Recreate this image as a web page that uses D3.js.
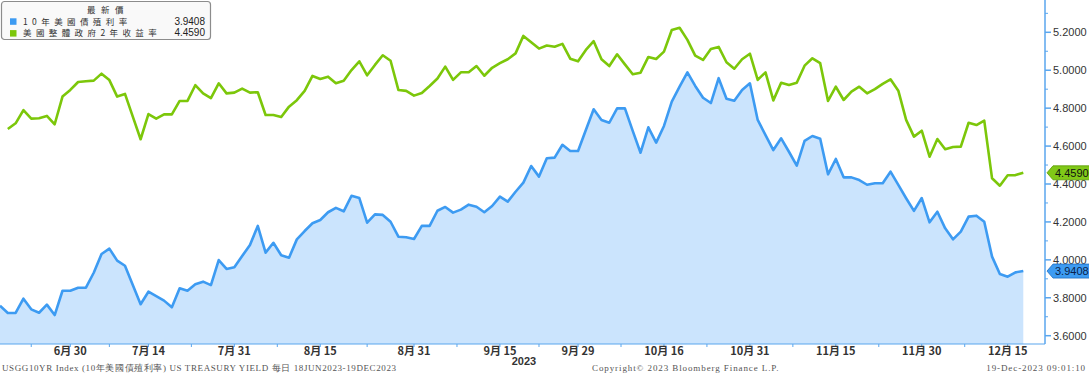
<!DOCTYPE html>
<html>
<head>
<meta charset="utf-8">
<script src="https://cdn.jsdelivr.net/npm/d3@7"></script>
<style>
  html, body { margin: 0; padding: 0; background: #fff; }
  svg { display: block; }
</style>
</head>
<body>
<div id="chart"></div>
<script>
// 10y and 2y US treasury yields, daily (weekdays) 19 Jun 2023 - 19 Dec 2023
var startDate = new Date(2023, 5, 19);
var endDate = new Date(2023, 11, 20);

var tenYear = [3.758,3.720,3.720,3.795,3.739,3.721,3.764,3.709,3.837,3.837,
  3.853,3.853,3.932,4.031,4.059,3.996,3.969,3.867,3.766,3.832,
  3.809,3.785,3.750,3.850,3.837,3.871,3.885,3.867,3.999,3.952,
  3.961,4.020,4.078,4.179,4.038,4.090,4.024,4.011,4.108,4.152,
  4.193,4.210,4.251,4.274,4.256,4.338,4.326,4.196,4.240,4.237,
  4.201,4.122,4.119,4.110,4.179,4.179,4.259,4.279,4.249,4.265,
  4.291,4.280,4.251,4.284,4.333,4.307,4.359,4.407,4.495,4.439,
  4.536,4.539,4.607,4.574,4.574,4.685,4.794,4.738,4.723,4.799,
  4.799,4.680,4.565,4.699,4.618,4.706,4.834,4.913,4.989,4.917,
  4.855,4.827,4.958,4.850,4.839,4.896,4.931,4.738,4.658,4.579,
  4.641,4.570,4.497,4.627,4.653,4.639,4.451,4.532,4.435,4.435,
  4.421,4.396,4.404,4.404,4.465,4.395,4.325,4.258,4.326,4.198,
  4.254,4.166,4.108,4.149,4.228,4.233,4.201,4.017,3.925,3.911,
  3.934,3.9408];

var twoYear = [null,4.690,4.720,4.790,4.745,4.747,4.759,4.715,4.861,4.896,
  4.938,4.942,4.945,4.982,4.948,4.861,4.875,4.755,4.636,4.769,
  4.745,4.767,4.767,4.838,4.838,4.921,4.878,4.853,4.931,4.878,
  4.882,4.903,4.882,4.884,4.764,4.764,4.753,4.808,4.842,4.891,
  4.970,4.954,4.966,4.931,4.945,5.001,5.047,4.973,5.028,5.079,
  5.050,4.896,4.891,4.866,4.880,4.917,4.956,5.019,4.949,4.989,
  4.989,5.022,4.971,5.013,5.037,5.058,5.089,5.181,5.147,5.114,
  5.130,5.124,5.139,5.061,5.047,5.107,5.153,5.058,5.022,5.084,
  5.031,4.979,4.987,5.070,5.059,5.098,5.212,5.224,5.160,5.077,
  5.054,5.112,5.123,5.042,5.008,5.058,5.087,4.949,4.989,4.841,
  4.934,4.922,4.934,5.024,5.063,5.037,4.838,4.913,4.843,4.887,
  4.913,4.878,4.900,4.928,4.952,4.892,4.738,4.650,4.681,4.544,
  4.637,4.583,4.595,4.597,4.723,4.711,4.734,4.430,4.391,4.446,
  4.447,4.459];

var seriesNames = ["10年美國債殖利率", "美國整體政府2年收益率"];
var lastValues = ["3.9408", "4.4590"];

var tickDates = ["2023-06-30","2023-07-14","2023-07-31","2023-08-15","2023-08-31","2023-09-15",
  "2023-09-29","2023-10-16","2023-10-31","2023-11-15","2023-11-30","2023-12-15"];
var tickLabels = ["6月 30","7月 14","7月 31","8月 15","8月 31","9月 15",
  "9月 29","10月 16","10月 31","11月 15","11月 30","12月 15"];
var yTicks = [3.6, 3.8, 4.0, 4.2, 4.4, 4.6, 4.8, 5.0, 5.2];
var yMinor = [3.7, 3.9, 4.1, 4.3, 4.5, 4.7, 4.9, 5.1, 5.3];

var width = 1089, height = 373;
var axisX = 1045, baseY = 344;
var blue = "#3d9bf2", green = "#7cc70a", fillBlue = "#cbe4fd", axisBlue = "#5aa6ee";

var fmt = d3.timeFormat("%Y-%m-%d");
var dates = d3.timeDay.range(startDate, endDate)
  .filter(function(d) { return d.getDay() !== 0 && d.getDay() !== 6; })
  .map(fmt);

var x = d3.scalePoint().domain(dates).range([0, 1023.3]);
var y = d3.scaleLinear().domain([3.6, 5.2]).range([335.7, 32.3]);

var svg = d3.select("#chart").append("svg")
  .attr("width", width).attr("height", height);

// blue area + line
var area = d3.area()
  .x(function(d, i) { return x(dates[i]); })
  .y0(baseY)
  .y1(function(d) { return y(d); });

svg.append("path")
  .datum(tenYear)
  .attr("d", area)
  .attr("fill", fillBlue);

var line = d3.line()
  .defined(function(d) { return d != null; })
  .x(function(d, i) { return x(dates[i]); })
  .y(function(d) { return y(d); });

svg.append("path")
  .datum(tenYear)
  .attr("d", line)
  .attr("fill", "none")
  .attr("stroke", blue)
  .attr("stroke-width", 2.6)
  .attr("stroke-linejoin", "round");

svg.append("path")
  .datum(twoYear)
  .attr("d", line)
  .attr("fill", "none")
  .attr("stroke", green)
  .attr("stroke-width", 2.6)
  .attr("stroke-linejoin", "round");

// right axis
var yAxis = svg.append("g").attr("transform", "translate(" + axisX + ",0)");
yAxis.append("line")
  .attr("x1", 0).attr("x2", 0).attr("y1", 0).attr("y2", baseY)
  .attr("stroke", axisBlue).attr("stroke-width", 1.5);
yAxis.selectAll(".minor").data(yMinor).enter().append("line")
  .attr("x1", 0).attr("x2", 3)
  .attr("y1", function(d) { return y(d); }).attr("y2", function(d) { return y(d); })
  .attr("stroke", axisBlue).attr("stroke-width", 1);
yAxis.selectAll(".major").data(yTicks).enter().append("line")
  .attr("x1", 0).attr("x2", 6)
  .attr("y1", function(d) { return y(d); }).attr("y2", function(d) { return y(d); })
  .attr("stroke", axisBlue).attr("stroke-width", 1.5);
yAxis.selectAll(".lbl").data(yTicks).enter().append("text")
  .attr("x", 8)
  .attr("y", function(d) { return y(d) + 4; })
  .attr("font-family", "Liberation Sans, Arial, sans-serif")
  .attr("font-size", 11)
  .attr("fill", "#333")
  .text(function(d) { return d.toFixed(4); });

// last value tags
var tags = [
  { v: +lastValues[1], text: lastValues[1], fill: "#80c818", stroke: "#5a9a00", color: "#111" },
  { v: +lastValues[0], text: lastValues[0], fill: "#3d9bf2", stroke: "#1f6fc0", color: "#0b1f4a" }
];
var tag = svg.selectAll(".tag").data(tags).enter().append("g")
  .attr("transform", function(d) { return "translate(" + (axisX + 2) + "," + y(d.v) + ")"; });
tag.append("path")
  .attr("d", "M0,0 L6,-7 L43,-7 L43,7 L6,7 Z")
  .attr("fill", function(d) { return d.fill; })
  .attr("stroke", function(d) { return d.stroke; })
  .attr("stroke-width", 0.8);
tag.append("text")
  .attr("x", 8).attr("y", 4)
  .attr("font-family", "Liberation Sans, Arial, sans-serif")
  .attr("font-size", 11)
  .attr("fill", function(d) { return d.color; })
  .text(function(d) { return d.text; });

// bottom axis
svg.append("line")
  .attr("x1", 0).attr("x2", axisX).attr("y1", baseY).attr("y2", baseY)
  .attr("stroke", axisBlue).attr("stroke-width", 1.2);

var tickPos = tickDates.map(function(d) { return x(d); });
var minorPos = [tickPos[0] - (tickPos[1] - tickPos[0]) / 2];
for (var i = 1; i < tickPos.length; i++) minorPos.push((tickPos[i - 1] + tickPos[i]) / 2);

svg.selectAll(".xt").data(tickPos.concat(minorPos)).enter().append("line")
  .attr("x1", function(d) { return d; }).attr("x2", function(d) { return d; })
  .attr("y1", baseY).attr("y2", baseY + 3)
  .attr("stroke", axisBlue).attr("stroke-width", 1);

svg.selectAll(".xl").data(tickLabels).enter().append("text")
  .attr("x", function(d, i) { return tickPos[i]; })
  .attr("y", 355)
  .attr("text-anchor", "middle")
  .attr("font-family", "Noto Sans CJK TC, sans-serif")
  .attr("font-weight", "bold")
  .attr("font-size", 11)
  .attr("fill", "#333")
  .text(function(d) { return d; });

svg.append("text")
  .attr("x", tickPos[5] + 24).attr("y", 365)
  .attr("text-anchor", "middle")
  .attr("font-family", "Liberation Sans, Arial, sans-serif")
  .attr("font-weight", "bold")
  .attr("font-size", 11)
  .attr("fill", "#333")
  .text("2023");

// footer
var foot = svg.append("g")
  .attr("font-family", "Liberation Serif, Times New Roman, serif")
  .attr("font-size", 9)
  .attr("fill", "#555");
foot.append("text").attr("x", 2).attr("y", 371).attr("letter-spacing", 0.6)
  .text("USGG10YR Index (10年美國債殖利率) US TREASURY YIELD   每日 18JUN2023-19DEC2023");
foot.append("text").attr("x", 592).attr("y", 371).attr("letter-spacing", 0.9)
  .text("Copyright© 2023 Bloomberg Finance L.P.");
foot.append("text").attr("x", 1086).attr("y", 371).attr("text-anchor", "end").attr("letter-spacing", 0.9)
  .text("19-Dec-2023 09:01:10");

// legend
var legend = svg.append("g").attr("font-family", "Noto Sans CJK TC, sans-serif").attr("font-size", 8.5);
legend.append("rect")
  .attr("x", 1.5).attr("y", 1.5).attr("width", 209).attr("height", 38).attr("rx", 3)
  .attr("fill", "#f9f9f9").attr("stroke", "#8c8c8c").attr("stroke-width", 1.2);
legend.append("text").attr("x", 87).attr("y", 12.5)
  .attr("letter-spacing", 5.5)
  .attr("fill", "#333").text("最新價");
var rows = legend.selectAll(".row").data(seriesNames).enter().append("g")
  .attr("transform", function(d, i) { return "translate(0," + (i * 11.8) + ")"; });
rows.append("rect")
  .attr("x", 10).attr("y", 18.3).attr("width", 6.5).attr("height", 6.5)
  .attr("fill", function(d, i) { return i === 0 ? blue : green; });
rows.append("text")
  .attr("x", 23).attr("y", 24.6)
  .attr("fill", "#333")
  .attr("letter-spacing", 4.4)
  .text(function(d) { return d; });
rows.append("text")
  .attr("x", 205).attr("y", 24.6)
  .attr("text-anchor", "end")
  .attr("font-family", "Liberation Sans, Arial, sans-serif")
  .attr("font-size", 10)
  .attr("fill", "#222")
  .text(function(d, i) { return lastValues[i]; });
</script>
</body>
</html>
